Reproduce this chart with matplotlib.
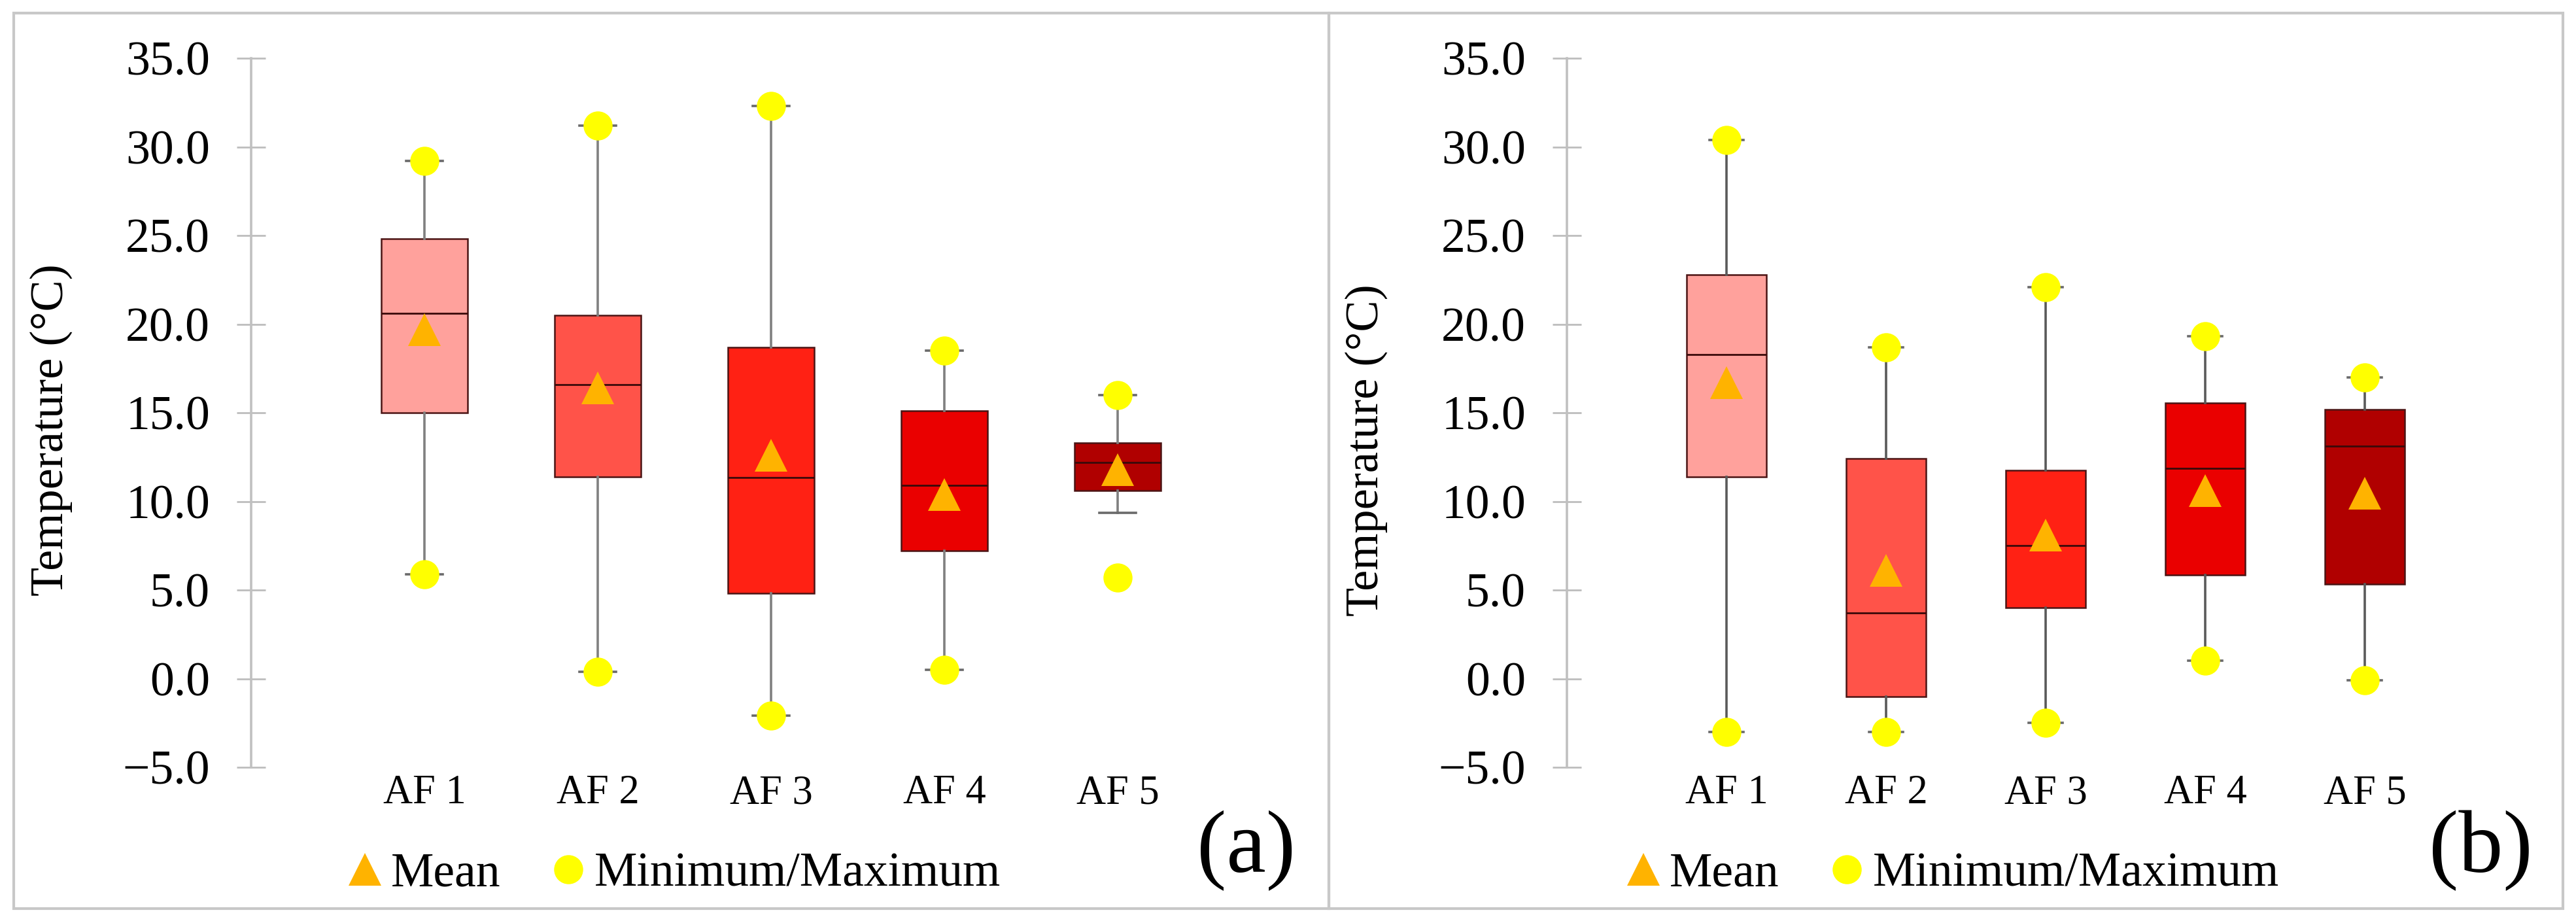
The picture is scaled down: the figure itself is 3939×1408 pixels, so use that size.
import matplotlib
matplotlib.use("Agg")
import matplotlib.pyplot as plt
from matplotlib.lines import Line2D
from matplotlib.patches import Rectangle
from matplotlib.ticker import FuncFormatter

# 데이터
categories = ["AF 1", "AF 2", "AF 3", "AF 4", "AF 5"]
box_colors = ["#FFA19C", "#FF5349", "#FF2114", "#EA0000", "#B00000"]

a_min = [5.9, 0.4, -2.1, 0.5, 5.7]
a_whislo = [5.9, 0.4, -2.1, 0.5, 9.35]
a_q1 = [15.0, 11.4, 4.8, 7.2, 10.6]
a_med = [20.6, 16.6, 11.35, 10.9, 12.2]
a_q3 = [24.8, 20.5, 18.7, 15.1, 13.3]
a_max = [29.2, 31.2, 32.3, 18.5, 16.0]
a_mean = [19.7, 16.4, 12.6, 10.4, 11.8]

b_min = [-3.0, -3.0, -2.5, 1.0, -0.1]
b_whislo = [-3.0, -3.0, -2.5, 1.0, -0.1]
b_q1 = [11.4, -1.0, 4.0, 5.85, 5.35]
b_med = [18.3, 3.7, 7.5, 11.85, 13.1]
b_q3 = [22.8, 12.4, 11.75, 15.55, 15.2]
b_max = [30.4, 18.7, 22.1, 19.3, 17.0]
b_mean = [16.7, 6.1, 8.1, 10.6, 10.45]

W, H = 3939, 1408
plt.rcParams["font.family"] = ["Liberation Serif", "DejaVu Serif"]

fig = plt.figure(figsize=(W / 100, H / 100), dpi=100)


def fx(px):
    return px / W


def fy(py):
    return 1 - py / H


def draw_panel(rect, whislo, q1, med, q3, whishi, mins, means, whisker_color):
    ax = fig.add_axes(rect)
    pos = list(range(1, len(categories) + 1))
    stats = []
    for i in range(len(categories)):
        stats.append({"whislo": whislo[i], "q1": q1[i], "med": med[i],
                      "q3": q3[i], "whishi": whishi[i], "fliers": []})
    bp = ax.bxp(stats, positions=pos, widths=0.5, capwidths=0.21,
                patch_artist=True, showfliers=False,
                boxprops=dict(edgecolor="#4a1414", linewidth=1.8),
                medianprops=dict(color="#3a0a0a", linewidth=2.0),
                whiskerprops=dict(color=whisker_color, linewidth=2.6),
                capprops=dict(color="#6a6a6a", linewidth=2.6))
    for patch, c in zip(bp["boxes"], box_colors):
        patch.set_facecolor(c)

    # 최소/최대 점, 평균 삼각형
    ax.plot(pos, mins, ls="none", marker="o", markersize=32,
            color="#FFFF00", markeredgewidth=0, zorder=5)
    ax.plot(pos, whishi, ls="none", marker="o", markersize=32,
            color="#FFFF00", markeredgewidth=0, zorder=5)
    ax.plot(pos, means, ls="none", marker="^", markersize=36,
            color="#FFB300", markeredgewidth=0, zorder=6)

    ax.set_xlim(0, 6)
    ax.set_ylim(-5, 35)
    ax.set_yticks(range(-5, 36, 5))
    ax.yaxis.set_major_formatter(
        FuncFormatter(lambda v, p: f"{v:.1f}".replace("-", "\u2212")))
    ax.set_xticks(pos, categories)
    ax.tick_params(axis="x", length=0, pad=8, labelsize=45)
    ax.tick_params(axis="y", direction="inout", length=31, width=2,
                   color="#bdbdbd", pad=30, labelsize=53)
    for s in ["top", "right", "bottom"]:
        ax.spines[s].set_visible(False)
    ax.spines["left"].set_color("#c0c0c0")
    ax.spines["left"].set_linewidth(2.6)
    return ax


ax_a = draw_panel([fx(384), fy(1173), fx(1590), fy(89) - fy(1173)],
                  a_whislo, a_q1, a_med, a_q3, a_max, a_min, a_mean, "#808080")
ax_b = draw_panel([fx(2396), fy(1173), fx(1464), fy(89) - fy(1173)],
                  b_whislo, b_q1, b_med, b_q3, b_max, b_min, b_mean, "#5a5a5a")

# y축 제목
fig.text(fx(78), fy(657), "Temperature (°C)", rotation=90,
         ha="center", va="center", fontsize=52)
fig.text(fx(2089), fy(688), "Temperature (°C)", rotation=90,
         ha="center", va="center", fontsize=52)

# 패널 라벨
fig.text(fx(1906), fy(1300), "(a)", ha="center", va="center", fontsize=98)
fig.text(fx(3793), fy(1300), "(b)", ha="center", va="center", fontsize=98)

# 범례
handles = [Line2D([], [], ls="none", marker="^", markersize=36,
                  color="#FFB300", markeredgewidth=0),
           Line2D([], [], ls="none", marker="o", markersize=32,
                  color="#FFFF00", markeredgewidth=0)]
for x0 in [532, 2487]:
    fig.legend(handles, ["Mean", "Minimum/Maximum"], ncol=2, frameon=False,
               fontsize=53, handlelength=0.7, handletextpad=0.19,
               columnspacing=1.06, borderpad=0, borderaxespad=0,
               loc="center left", bbox_to_anchor=(fx(x0), fy(1337)),
               bbox_transform=fig.transFigure)

# 패널 테두리
for x0, x1 in [(21, 2032), (2032, 3919)]:
    fig.patches.append(Rectangle((fx(x0), fy(1389)), fx(x1 - x0),
                                 fy(20) - fy(1389), transform=fig.transFigure,
                                 fill=False, edgecolor="#c8c8c8", linewidth=3))

fig.savefig("out.png", dpi=100)
